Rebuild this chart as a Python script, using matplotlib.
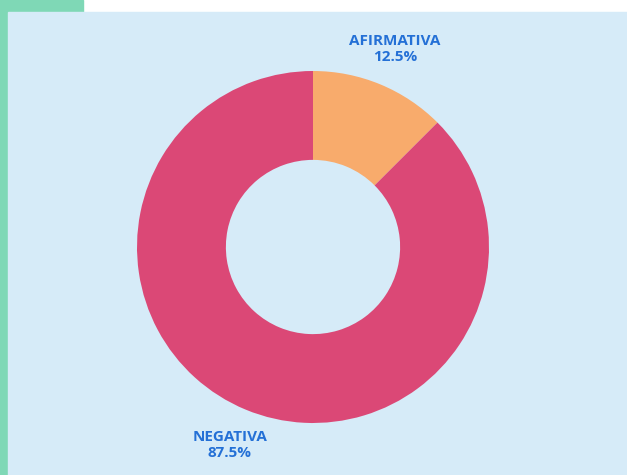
import matplotlib.pyplot as plt
from matplotlib.patches import Rectangle

labels = ["AFIRMATIVA", "NEGATIVA"]
values = [12.5, 87.5]
colors = ["#f8ab6c", "#db4876"]

W, H = 627, 475
fig = plt.figure(figsize=(W / 100, H / 100), dpi=100)
ax = fig.add_axes([0, 0, 1, 1])

# fondo: franja verde, zona blanca arriba, panel azul claro
ax.add_patch(Rectangle((0, 0), W, H, color="#ffffff", zorder=0))
ax.add_patch(Rectangle((0, 0), 8, H, color="#7fd8b6", zorder=0))
ax.add_patch(Rectangle((0, H - 12), 83, 12, color="#7fd8b6", zorder=0))
ax.add_patch(Rectangle((8, 0), W - 8, H - 12, color="#d6ebf8", zorder=0))

cx, cy, r = 313, H - 247, 176
ax.pie(values, colors=colors, startangle=90, counterclock=False,
       center=(cx, cy), radius=r, frame=True,
       wedgeprops=dict(width=r * 0.505, linewidth=0))

font = dict(family="Open Sans", weight="bold", color="#2470d6", fontsize=11,
            ha="center", va="center", linespacing=1.2)
ax.text(395, H - 49, f"{labels[0]}\n{values[0]}%", **font)
ax.text(230, H - 445, f"{labels[1]}\n{values[1]}%", **font)

ax.set_xlim(0, W)
ax.set_ylim(0, H)
ax.set_aspect("equal")
ax.axis("off")

fig.savefig("out.png", dpi=100)
